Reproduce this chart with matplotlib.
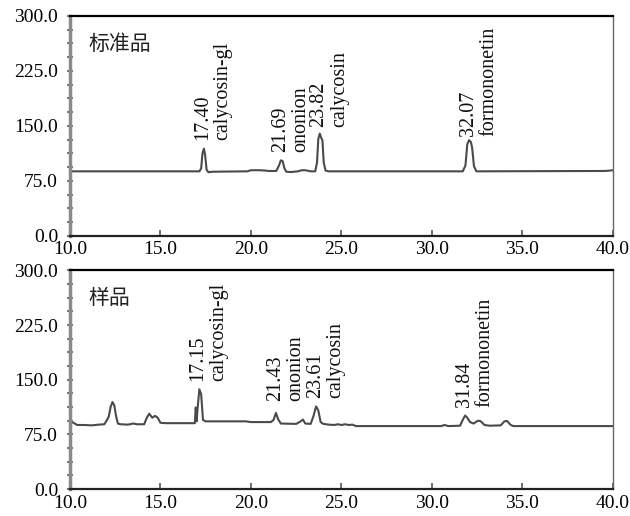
import matplotlib
matplotlib.use("Agg")
import matplotlib.pyplot as plt
from matplotlib.ticker import AutoMinorLocator, FormatStrFormatter

# -----------------------------------------------
# Data (time in min, signal)
# -----------------------------------------------
std_time = [10.0, 17.15, 17.25, 17.32, 17.40, 17.47, 17.55, 17.65, 17.9, 19.8,
            20.0, 20.5, 20.8, 21.0, 21.4, 21.55, 21.65, 21.75, 21.85, 21.95,
            22.2, 22.6, 22.8, 23.0, 23.3, 23.55, 23.65, 23.72, 23.8, 23.88,
            23.95, 24.02, 24.12, 24.3, 31.7, 31.85, 31.95, 32.05, 32.15, 32.22,
            32.32, 32.45, 39.6, 40.0]
std_signal = [88, 88, 92, 112, 119, 110, 90, 86.8, 87.5, 88,
              89.5, 89.5, 89, 88.5, 88.5, 96, 103, 102, 92, 87.5,
              87, 88, 89.5, 89.5, 88, 88, 100, 132, 139.5, 134,
              130, 100, 89, 88, 88, 96, 125, 130.5, 128, 120,
              95, 88, 88.5, 89.5]

smp_time = [10.0, 10.2, 10.4, 10.8, 11.2, 11.6, 11.9, 12.05, 12.15, 12.25,
            12.35, 12.45, 12.55, 12.65, 12.8, 13.2, 13.5, 13.7, 14.1, 14.25,
            14.38, 14.55, 14.7, 14.85, 15.0, 15.3, 16.9, 16.95, 17.0, 17.05,
            17.15, 17.25, 17.35, 17.5, 19.7, 20.0, 21.1, 21.25, 21.38, 21.5,
            21.65, 22.5, 22.75, 22.87, 23.0, 23.3, 23.45, 23.6, 23.72, 23.85,
            24.0, 24.3, 24.6, 24.8, 25.0, 25.2, 25.4, 25.6, 25.8, 30.5,
            30.7, 30.9, 31.55, 31.7, 31.83, 31.95, 32.1, 32.3, 32.55, 32.7,
            32.9, 33.2, 33.8, 34.0, 34.15, 34.35, 34.5, 40.0]
smp_signal = [92.5, 91, 88, 88, 87.5, 88.5, 89, 95, 100, 113,
              119.5, 115, 100, 90, 89, 88.5, 90, 89, 89, 98,
              103.5, 98, 100.5, 98, 91, 90.5, 90.5, 112, 93, 110,
              137, 130, 95, 93, 93, 92, 92, 95, 104.5, 96,
              90, 89.5, 93, 95.5, 90, 89.5, 100, 113.5, 108, 92,
              89.5, 88.5, 88, 89, 88, 89, 88, 88.5, 86.5, 86.5,
              88, 86.5, 87, 95, 101, 98, 92, 90, 94, 93,
              88, 87, 87.5, 93, 93.5, 88, 86.5, 86.5]

compounds = ["calycosin-gl", "ononion", "calycosin", "formononetin"]
std_rt = ["17.40", "21.69", "23.82", "32.07"]
smp_rt = ["17.15", "21.43", "23.61", "31.84"]
panel_titles = ["标准品", "样品"]

x_ticks = [10, 15, 20, 25, 30, 35, 40]
y_ticks = [0, 75, 150, 225, 300]

plt.rcParams['font.family'] = ['Liberation Serif', 'DejaVu Serif']

# label anchor heights (bottom of rotated text) for each panel
std_label_y = [131, 115, 149, 136]
smp_label_y = [148, 121, 125, 113]


def style_axes(ax):
    ax.set_xlim(10, 40)
    ax.set_ylim(0, 300)
    ax.set_xticks(x_ticks)
    ax.set_yticks(y_ticks)
    ax.xaxis.set_major_formatter(FormatStrFormatter('%.1f'))
    ax.yaxis.set_major_formatter(FormatStrFormatter('%.1f'))
    ax.yaxis.set_minor_locator(AutoMinorLocator(4))
    ax.tick_params(axis='y', which='both', direction='inout', length=5,
                   width=1.5, color='#777777', labelsize=14, pad=6)
    ax.tick_params(axis='x', which='major', direction='in', length=4,
                   width=1.2, color='#555555', labelsize=14, pad=4)
    ax.spines['top'].set_color('black')
    ax.spines['top'].set_linewidth(1.6)
    ax.spines['bottom'].set_color('#222222')
    ax.spines['bottom'].set_linewidth(1.6)
    ax.spines['left'].set_color('#8a8a8a')
    ax.spines['left'].set_linewidth(2.5)
    ax.spines['right'].set_color('#666666')
    ax.spines['right'].set_linewidth(1.0)


def draw_panel(ax, t, s, rts, label_y, title):
    ax.plot(t, s, color='#4a4a4a', lw=1.5)
    for rt, name, ly in zip(rts, compounds, label_y):
        ax.text(float(rt) + 0.5, ly, rt + "\n" + name, rotation=90,
                ha='center', va='bottom', multialignment='left',
                fontsize=14.5, linespacing=1.1, color='#111111')
    ax.text(11.0, 262, title, fontsize=15, va='center', ha='left',
            family=['Noto Sans CJK SC', 'DejaVu Sans'], color='#222222')
    style_axes(ax)


fig = plt.figure(figsize=(6.3, 5.16), dpi=100)
ax1 = fig.add_axes([0.111, 0.543, 0.862, 0.426])
ax2 = fig.add_axes([0.111, 0.052, 0.862, 0.424])

draw_panel(ax1, std_time, std_signal, std_rt, std_label_y, panel_titles[0])
draw_panel(ax2, smp_time, smp_signal, smp_rt, smp_label_y, panel_titles[1])

fig.savefig("out.png", dpi=100)
